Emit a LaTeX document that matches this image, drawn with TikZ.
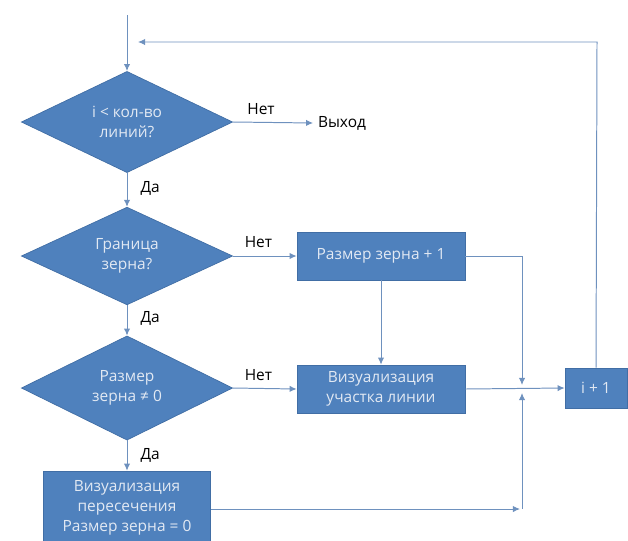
\documentclass[tikz,border=0pt]{standalone}
\usepackage{fontspec}
\setmainfont{Open Sans}
\usepackage{xcolor}
\usetikzlibrary{shapes,arrows,arrows.meta,positioning,calc}

\definecolor{boxblue}{RGB}{79,129,189}
\definecolor{boxline}{RGB}{65,110,165}
\definecolor{flowline}{RGB}{110,145,190}
\definecolor{boxtext}{RGB}{226,233,243}

\tikzset{
  decision/.style={diamond, fill=boxblue, draw=boxline, line width=0.5pt,
    minimum width=5.28cm, inner sep=0pt, align=center, text=boxtext},
  process/.style={rectangle, fill=boxblue, draw=boxline, line width=0.5pt,
    minimum width=4.2cm, minimum height=1.2cm, align=center, text=boxtext},
  flow/.style={draw=flowline, line width=0.7pt},
  flowarrow/.style={flow, -{Latex[length=5pt,width=4.5pt]}},
  answer/.style={text=black}
}

\begin{document}
\begin{tikzpicture}[x=0.025cm, y=-0.025cm, font=\fontsize{11}{14}\selectfont]
\useasboundingbox (0,0) rectangle (628,540);

% Decisions
\node[decision, minimum height=2.53cm] (lines) at (127,122) {i < кол-во\\линий?};
\node[decision, minimum height=2.43cm] (border) at (127,256) {Граница\\зерна?};
\node[decision, minimum height=2.25cm] (size) at (127,388) {Размер\\зерна ≠ 0};

% Processes
\node[process] (grow) at (381,256) {Размер зерна + 1};
\node[process] (drawpart) at (381,389) {Визуализация\\участка линии};
\node[process, minimum width=4.18cm, minimum height=1.85cm] (cross) at (127,508)
  {Визуализация\\пересечения\\Размер зерна = 0};
\node[process, minimum width=1.55cm, minimum height=1.0cm] (next) at (596,388) {i + 1};
\node[answer] (exit) at (342,123) {Выход};

% Free ends and junctions
\coordinate (start) at (127,15);
\coordinate (loopR) at (597,42);
\coordinate (loopL) at (138,42);
\coordinate (jtop) at (522,256);
\coordinate (jdown) at (522,385);
\coordinate (jbot) at (522,509);
\coordinate (jbotin) at (520,509);
\coordinate (jup) at (522,393);

% Main column
\draw[flowarrow] (start) -- (lines.north);
\draw[flowarrow] (lines.south) -- (border.north) node[answer, pos=0.45, right=6pt] {Да};
\draw[flowarrow] (border.south) -- (size.north) node[answer, pos=0.45, right=6pt] {Да};
\draw[flowarrow] (size.south) -- (cross.north) node[answer, pos=0.5, right=6pt] {Да};

% No branches
\draw[flowarrow] (lines.east) -- (exit.west) node[answer, pos=0.35, above=2pt] {Нет};
\draw[flowarrow] (border.east) -- (grow.west) node[answer, pos=0.4, above=2pt] {Нет};
\draw[flowarrow] (size.east) -- (drawpart.west) node[answer, pos=0.4, above=2pt] {Нет};

% Joining to i + 1
\draw[flowarrow] (grow.south) -- (drawpart.north);
\draw[flowarrow] (grow.east) -- (jtop) -- (jdown);
\draw[flowarrow] (drawpart.east) -- (next.west);
\draw[flowarrow] (cross.east |- jbotin) -- (jbotin);
\draw[flowarrow] (jbot) -- (jup);

% Loop back
\draw[flowarrow] (next.north) -- (loopR) -- (loopL);
\end{tikzpicture}
\end{document}
